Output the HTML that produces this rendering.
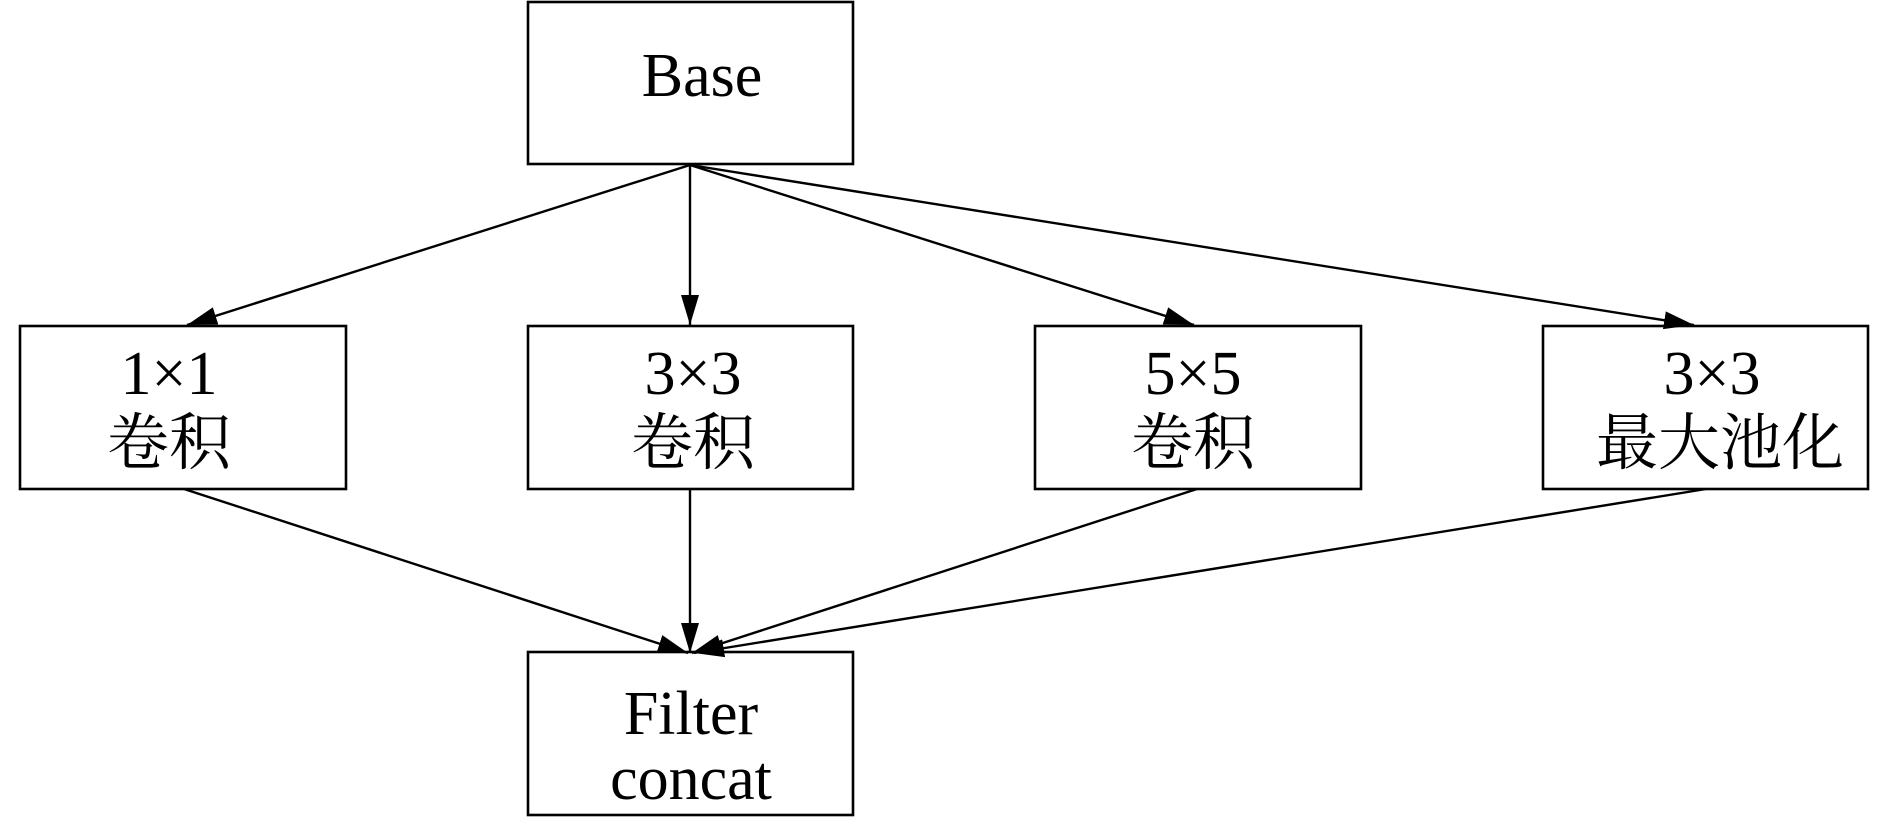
<!DOCTYPE html>
<html><head><meta charset="utf-8"><style>html,body{margin:0;padding:0;background:#fff}svg{display:block}</style></head>
<body>
<svg width="1890" height="821" viewBox="0 0 1890 821" xmlns="http://www.w3.org/2000/svg">
<defs>
<marker id="a" markerWidth="30" markerHeight="18" refX="30" refY="9" orient="auto" markerUnits="userSpaceOnUse">
<path d="M0,0 L30,9 L0,18 Z" fill="#000"/>
</marker>
</defs>
<g fill="none" stroke="#000" stroke-width="2.6">
<rect x="528" y="2" width="325" height="162"/>
<rect x="20" y="326" width="326" height="163"/>
<rect x="528" y="326" width="325" height="163"/>
<rect x="1035" y="326" width="326" height="163"/>
<rect x="1543" y="326" width="325" height="163"/>
<rect x="528" y="652" width="325" height="163"/>
</g>
<g stroke="#000" stroke-width="2.4" marker-end="url(#a)">
<line x1="690" y1="165" x2="187" y2="325"/>
<line x1="690" y1="165" x2="690" y2="325"/>
<line x1="690" y1="165" x2="1194" y2="325"/>
<line x1="690" y1="165" x2="1694" y2="325"/>
<line x1="184" y1="489" x2="688" y2="653"/>
<line x1="690" y1="489" x2="690" y2="653"/>
<line x1="1197" y1="489" x2="692" y2="653"/>
<line x1="1706" y1="489" x2="694" y2="653"/>
</g>
<g font-family="'Liberation Serif','Noto Serif CJK SC',serif" font-size="62" text-anchor="middle" fill="#000">
<text x="702" y="96">Base</text>
<text x="169" y="394">1×1</text>
<text x="169" y="464">卷积</text>
<text x="693" y="394">3×3</text>
<text x="693" y="464">卷积</text>
<text x="1193" y="394">5×5</text>
<text x="1193" y="464">卷积</text>
<text x="1712" y="394">3×3</text>
<text x="1720" y="464">最大池化</text>
<text x="691" y="734">Filter</text>
<text x="691" y="799">concat</text>
</g>
</svg>
</body></html>
